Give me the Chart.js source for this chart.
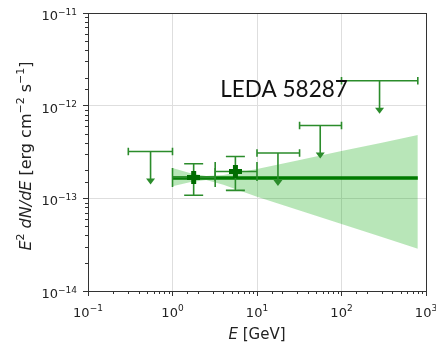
<!DOCTYPE html>
<html>
<head>
<meta charset="utf-8">
<script src="https://cdn.jsdelivr.net/npm/chart.js@4"></script>
<style>
  html, body { margin: 0; padding: 0; background: #fff; }
  canvas { display: block; }
</style>
</head>
<body>
<canvas id="sed" width="436" height="343"></canvas>
<script>
// flux points (E in GeV, E^2 dN/dE in erg cm^-2 s^-1)
const ptE = [1.78, 5.55];
const ptELo = [1.0, 3.2];
const ptEHi = [3.2, 10];
const ptFlux = [1.68e-13, 1.95e-13];
const ptFluxLo = [1.08e-13, 1.22e-13];
const ptFluxHi = [2.36e-13, 2.83e-13];

// upper limits
const ulE = [0.55, 17.7, 56, 282];
const ulELo = [0.30, 10, 31.9, 100];
const ulEHi = [1.0, 31.9, 100, 800];
const ulFlux = [3.2e-13, 3.08e-13, 6.1e-13, 1.86e-12];

// best fit power law and its butterfly
const fitE = [1, 800];
const fitFlux = [1.66e-13, 1.66e-13];
const bandE = [1, 1.6, 2.5, 4, 10, 30, 100, 300, 800];
const bandHi = [2.13e-13, 1.88e-13, 1.74e-13, 1.79e-13, 2.07e-13, 2.56e-13, 3.24e-13, 3.99e-13, 4.81e-13];
const bandLo = [1.35e-13, 1.49e-13, 1.58e-13, 1.40e-13, 1.04e-13, 7.55e-14, 5.29e-14, 3.82e-14, 2.86e-14];

const sourceName = 'LEDA 58287';
const labelE = 3.68;
const labelFlux = 1.25e-12;

const xTicks = [0.1, 1, 10, 100, 1000];
const yTicks = [1e-14, 1e-13, 1e-12, 1e-11];

const barColor = '#2b8c2b';
const markColor = '#006c00';
const fitColor = '#007a00';
const bandColor = 'rgba(0, 165, 0, 0.28)';
const textColor = '#222';

function isMajor(v) {
  const l = Math.log10(v);
  return Math.abs(l - Math.round(l)) < 1e-6;
}

function plusMarker(size, arm, color) {
  const c = document.createElement('canvas');
  c.width = c.height = size;
  const g = c.getContext('2d');
  g.fillStyle = color;
  const o = (size - arm) / 2;
  g.fillRect(0, o, size, arm);
  g.fillRect(o, 0, arm, size);
  return c;
}

const zip = (xs, ys) => xs.map((x, i) => ({ x: x, y: ys[i] }));

// pieces: [text, style] with style 'n' upright, 'i' italic, 's' superscript
function layoutPieces(ctx, pieces, size) {
  let total = 0;
  const fontOf = st => st === 'i' ? 'italic ' + size + 'px "DejaVu Sans"'
    : st === 's' ? Math.round(size * 0.7) + 'px "DejaVu Sans"'
    : size + 'px "DejaVu Sans"';
  const out = pieces.map(p => {
    ctx.font = fontOf(p[1]);
    const w = ctx.measureText(p[0]).width;
    total += w;
    return { text: p[0], font: fontOf(p[1]), w: w, dy: p[1] === 's' ? -size * 0.42 : 0 };
  });
  return { items: out, width: total };
}

function drawPieces(ctx, pieces, size, x, align) {
  const l = layoutPieces(ctx, pieces, size);
  let cx = align === 'right' ? x - l.width : align === 'center' ? x - l.width / 2 : x;
  l.items.forEach(it => {
    ctx.font = it.font;
    ctx.fillText(it.text, cx, it.dy);
    cx += it.w;
  });
}

function powPieces(v) {
  const e = Math.round(Math.log10(v));
  return [['10', 'n'], [String(e).replace('-', '\u2212'), 's']];
}

const errorBars = {
  id: 'errorBars',
  afterDatasetDraw(chart, args) {
    if (chart.data.datasets[args.index].label !== 'fit') return;
    const ctx = chart.ctx;
    const xs = chart.scales.x, ys = chart.scales.y;
    ctx.save();
    ctx.strokeStyle = barColor;
    ctx.fillStyle = barColor;
    ctx.lineWidth = 1.6;

    // flux points
    ptE.forEach((e, i) => {
      const x = xs.getPixelForValue(e), y = ys.getPixelForValue(ptFlux[i]);
      const x0 = xs.getPixelForValue(ptELo[i]), x1 = xs.getPixelForValue(ptEHi[i]);
      const y0 = ys.getPixelForValue(ptFluxLo[i]), y1 = ys.getPixelForValue(ptFluxHi[i]);
      const cap = 9.5;
      ctx.beginPath();
      ctx.moveTo(x0, y); ctx.lineTo(x1, y);
      ctx.moveTo(x0, y - cap); ctx.lineTo(x0, y + cap);
      ctx.moveTo(x1, y - cap); ctx.lineTo(x1, y + cap);
      ctx.moveTo(x, y0); ctx.lineTo(x, y1);
      ctx.moveTo(x - cap, y0); ctx.lineTo(x + cap, y0);
      ctx.moveTo(x - cap, y1); ctx.lineTo(x + cap, y1);
      ctx.stroke();
    });

    // upper limits
    ulE.forEach((e, i) => {
      const x = xs.getPixelForValue(e), y = ys.getPixelForValue(ulFlux[i]);
      const x0 = xs.getPixelForValue(ulELo[i]), x1 = xs.getPixelForValue(ulEHi[i]);
      const cap = 3.8;
      ctx.beginPath();
      ctx.moveTo(x0, y); ctx.lineTo(x1, y);
      ctx.moveTo(x0, y - cap); ctx.lineTo(x0, y + cap);
      ctx.moveTo(x1, y - cap); ctx.lineTo(x1, y + cap);
      ctx.moveTo(x, y); ctx.lineTo(x, y + 28);
      ctx.stroke();
      ctx.beginPath();
      ctx.moveTo(x - 4.5, y + 27);
      ctx.lineTo(x + 4.5, y + 27);
      ctx.lineTo(x, y + 33);
      ctx.closePath();
      ctx.fill();
    });
    ctx.restore();
  }
};

const frame = {
  id: 'frame',
  afterDraw(chart) {
    const ctx = chart.ctx;
    const a = chart.chartArea;
    const xs = chart.scales.x, ys = chart.scales.y;
    ctx.save();

    // minor ticks
    ctx.strokeStyle = '#333';
    ctx.lineWidth = 1;
    ctx.beginPath();
    xs.ticks.forEach(t => {
      if (isMajor(t.value)) return;
      const px = Math.round(xs.getPixelForValue(t.value)) + 0.5;
      ctx.moveTo(px, a.bottom); ctx.lineTo(px, a.bottom + 3);
    });
    ys.ticks.forEach(t => {
      if (isMajor(t.value)) return;
      const py = Math.round(ys.getPixelForValue(t.value)) + 0.5;
      ctx.moveTo(a.left - 3, py); ctx.lineTo(a.left, py);
    });
    ctx.stroke();

    // spines
    ctx.strokeRect(Math.round(a.left) + 0.5, Math.round(a.top) + 0.5,
      Math.round(a.right - a.left), Math.round(a.bottom - a.top));

    // tick labels
    ctx.fillStyle = textColor;
    ctx.textBaseline = 'alphabetic';
    xTicks.forEach(v => {
      ctx.save();
      ctx.translate(0, a.bottom + 25.5);
      drawPieces(ctx, powPieces(v), 13, xs.getPixelForValue(v), 'center');
      ctx.restore();
    });
    yTicks.forEach(v => {
      ctx.save();
      ctx.translate(0, ys.getPixelForValue(v) + 7);
      drawPieces(ctx, powPieces(v), 13, a.left - 11, 'right');
      ctx.restore();
    });

    // source name
    ctx.fillStyle = '#111';
    ctx.font = '22.5px Lato';
    ctx.fillText(sourceName, xs.getPixelForValue(labelE), ys.getPixelForValue(labelFlux));

    // axis titles
    ctx.fillStyle = textColor;
    ctx.save();
    ctx.translate(0, 339);
    drawPieces(ctx, [['E', 'i'], [' [GeV]', 'n']], 15, (a.left + a.right) / 2, 'center');
    ctx.restore();

    ctx.save();
    ctx.translate(31, 156);
    ctx.rotate(-Math.PI / 2);
    drawPieces(ctx, [['E', 'i'], ['2', 's'], [' ', 'n'], ['dN/dE', 'i'], [' [erg cm', 'n'],
      ['\u22122', 's'], [' s', 'n'], ['\u22121', 's'], [']', 'n']], 16, 0, 'center');
    ctx.restore();

    ctx.restore();
  }
};

const gridColor = c => (c.tick && isMajor(c.tick.value)) ? '#dedede' : 'rgba(0,0,0,0)';
const tickColor = c => (c.tick && isMajor(c.tick.value)) ? '#333' : 'rgba(0,0,0,0)';

new Chart(document.getElementById('sed'), {
  type: 'scatter',
  data: {
    datasets: [
      {
        label: 'points',
        data: zip(ptE, ptFlux),
        pointStyle: plusMarker(13, 5, markColor),
        pointRadius: 6,
        order: 0
      },
      {
        label: 'fit',
        type: 'line',
        data: zip(fitE, fitFlux),
        borderColor: fitColor,
        borderWidth: 3.5,
        pointRadius: 0,
        order: 1
      },
      {
        label: 'band upper',
        type: 'line',
        data: zip(bandE, bandHi),
        borderWidth: 0,
        borderColor: 'rgba(0,0,0,0)',
        backgroundColor: bandColor,
        fill: '+1',
        pointRadius: 0,
        order: 2
      },
      {
        label: 'band lower',
        type: 'line',
        data: zip(bandE, bandLo),
        borderWidth: 0,
        borderColor: 'rgba(0,0,0,0)',
        pointRadius: 0,
        fill: false,
        order: 3
      }
    ]
  },
  options: {
    responsive: false,
    animation: false,
    devicePixelRatio: 1,
    layout: { padding: { top: 13, right: 10, left: 0, bottom: 0 } },
    plugins: { legend: { display: false }, tooltip: { enabled: false } },
    scales: {
      x: {
        type: 'logarithmic',
        min: xTicks[0],
        max: xTicks[xTicks.length - 1],
        afterFit(s) { s.height = 52; },
        border: { display: false },
        grid: { color: gridColor, tickColor: tickColor, tickLength: 5 },
        ticks: { display: false, autoSkip: false }
      },
      y: {
        type: 'logarithmic',
        min: yTicks[0],
        max: yTicks[yTicks.length - 1],
        afterFit(s) { s.width = 88; },
        border: { display: false },
        grid: { color: gridColor, tickColor: tickColor, tickLength: 5 },
        ticks: { display: false, autoSkip: false }
      }
    }
  },
  plugins: [errorBars, frame]
});
</script>
</body>
</html>
